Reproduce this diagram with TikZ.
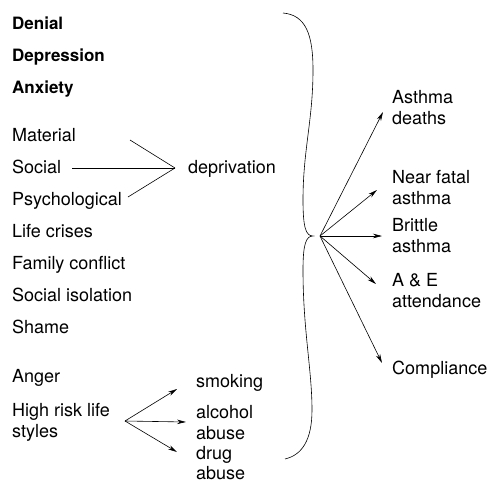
\documentclass[tikz,border=0pt]{standalone}
\usepackage{fontspec}
\setmainfont{TeX Gyre Heros}
\usetikzlibrary{arrows,arrows.meta,positioning,calc}
\tikzset{
    factor/.style={
        anchor=base west,
        inner sep=0pt,
        font=\fontsize{18}{21}\selectfont,
    },
    mood/.style={
        factor,
        font=\fontsize{17}{21}\selectfont\bfseries,
    },
    twoline/.style={
        factor,
        anchor=north west,
        align=left,
    },
    brace/.style={
        draw,
        semithick,
    },
    every edge/.style={
        draw,
        ->,>={Stealth[length=9pt,width=4.5pt]},
        semithick
    },
}
\begin{document}
\begin{tikzpicture}[x=1pt,y=-1pt]
\useasboundingbox (0,0) rectangle (491,482);
% left column
\node [mood] (F1) at (12,29) {Denial};
\node [mood] (F2) at (12,61) {Depression};
\node [mood] (F3) at (12,93) {Anxiety};
\node [factor] (F4) at (12,141) {Material};
\node [factor] (F5) at (12,173) {Social};
\node [factor] (F6) at (12,205) {Psychological};
\node [factor] (F7) at (12,237) {Life crises};
\node [factor] (F8) at (12,269) {Family conflict};
\node [factor] (F9) at (12,301) {Social isolation};
\node [factor] (F10) at (12,333) {Shame};
\node [factor] (F11) at (12,382) {Anger};
\node [twoline] (F12) at (12,403) {High risk life\\styles};
% deprivation
\node [factor] (Dep) at (188,173) {deprivation};
\coordinate (join) at (175,168);
\coordinate (m1) at (130,140);
\coordinate (m2) at (72,168);
\coordinate (m3) at (128,197);
\draw (m1) edge[-] (join);
\draw (m2) edge[-] (join);
\draw (m3) edge[-] (join);
% life styles
\node [factor] (H1) at (196,387) {smoking};
\node [twoline] (H2) at (196,405) {alcohol\\abuse};
\node [twoline, font=\fontsize{18}{20}\selectfont] (H3) at (196,446) {drug\\abuse};
\coordinate (src) at (125,421);
\draw (src) edge ($(H1.base west)+(-19,2)$);
\draw (src) edge ($(H2.north west)+(-10,17)$);
\draw (src) edge ($(H3.north west)+(-19,6)$);
% brace
\coordinate (tip) at (320,236);
\draw [brace] (283,13) .. controls (306,15) and (313,35) .. (313,70)
    .. controls (313,120) and (303,150) .. (303,200)
    .. controls (303,228) and (306,236) .. (313,236)
    .. controls (306,236) and (303,244) .. (303,270)
    .. controls (303,330) and (312,370) .. (312,410)
    .. controls (312,440) and (302,455) .. (285,459);
% outcomes
\node [twoline] (O1) at (392,90) {Asthma\\deaths};
\node [twoline] (O2) at (392,170) {Near fatal\\asthma};
\node [twoline] (O3) at (392,218) {Brittle\\asthma};
\node [twoline] (O4) at (392,273) {A \& E\\attendance};
\node [factor] (O5) at (392,374) {Compliance};
\draw (tip) edge ($(O1.north west)+(-9,22)$);
\draw (tip) edge ($(O2.north west)+(-15,20)$);
\draw (tip) edge ($(O3.north west)+(-10,18)$);
\draw (tip) edge ($(O4.north west)+(-16,11)$);
\draw (tip) edge ($(O5.base west)+(-10,-11)$);
\end{tikzpicture}
\end{document}
